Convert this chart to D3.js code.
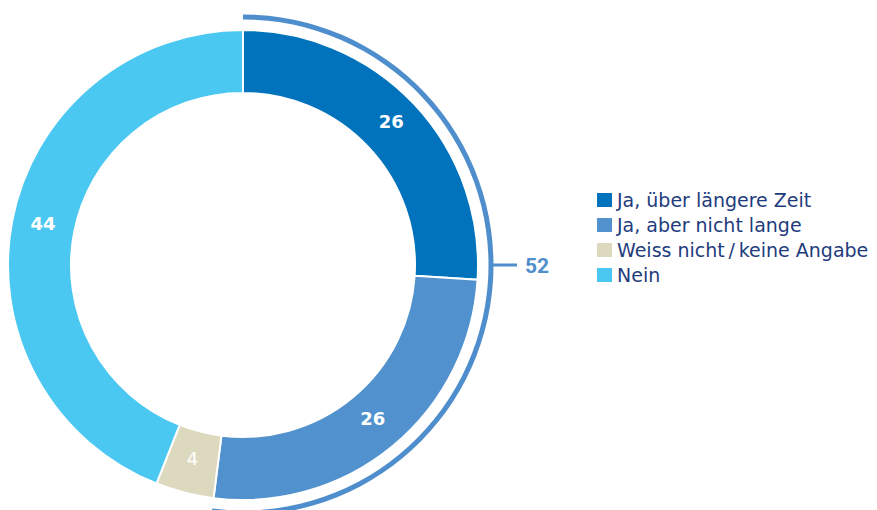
<!DOCTYPE html>
<html><head><meta charset="utf-8">
<script src="https://cdn.jsdelivr.net/npm/d3@7"></script>
<style>html,body{margin:0;padding:0;background:#fff;}svg{display:block;}</style>
</head><body>
<svg id="chart" width="877" height="510"></svg>
<script>
const categories = ["Ja, über längere Zeit", "Ja, aber nicht lange", "Weiss nicht / keine Angabe", "Nein"];
const values = [26, 26, 4, 44];
const colors = ["#0073BC", "#5192CE", "#DDD9BE", "#4BC8F2"];
const bracketLabel = 52;
const bracketSeries = [0, 1];

const svg = d3.select("#chart");
const cx = 243, cy = 265, rOuter = 235, rInner = 172;
const g = svg.append("g").attr("transform", `translate(${cx},${cy})`);

const pie = d3.pie().sort(null).value(d => d)(values);
const arc = d3.arc().innerRadius(rInner).outerRadius(rOuter);

g.selectAll("path.slice").data(pie).join("path")
  .attr("class", "slice")
  .attr("d", arc)
  .attr("fill", (d, i) => colors[i])
  .attr("stroke", "#fff").attr("stroke-width", 2);

const labelArc = d3.arc().innerRadius((rInner + rOuter) / 2).outerRadius((rInner + rOuter) / 2);
g.selectAll("text.val").data(pie).join("text")
  .attr("class", "val")
  .attr("transform", d => `translate(${labelArc.centroid(d)})`)
  .attr("text-anchor", "middle").attr("dy", "0.15em")
  .attr("fill", "#fff")
  .attr("font-family", "'DejaVu Sans', sans-serif")
  .attr("font-size", 18).attr("font-weight", (d, i) => i === 2 ? 400 : 700)
  .text(d => d.data);

// bracket arc
const bStart = pie[bracketSeries[0]].startAngle;
const bEnd = pie[bracketSeries[bracketSeries.length - 1]].endAngle;
const rB = 248;
const bArc = d3.arc().innerRadius(rB - 2.5).outerRadius(rB + 2.5).startAngle(bStart).endAngle(bEnd);
g.append("path").attr("d", bArc()).attr("fill", "#4F8ECC");
const tx0 = rB + 1, ty0 = 0;
g.append("line").attr("x1", tx0).attr("y1", ty0).attr("x2", tx0 + 25).attr("y2", ty0)
  .attr("stroke", "#4F8ECC").attr("stroke-width", 3);
g.append("text").attr("x", tx0 + 33).attr("y", ty0).attr("dy", "0.36em")
  .attr("fill", "#4F8ECC").attr("font-family", "Roboto, sans-serif")
  .attr("font-size", 21).attr("font-weight", 700).text(bracketLabel);

// legend
const leg = svg.append("g").attr("transform", "translate(597,200)");
const rows = leg.selectAll("g").data(categories).join("g")
  .attr("transform", (d, i) => `translate(0,${i * 25})`);
rows.append("rect").attr("x", 0).attr("y", -7).attr("width", 15).attr("height", 14)
  .attr("fill", (d, i) => colors[i]);
rows.append("text").attr("x", 20).attr("y", 0).attr("dy", "0.36em")
  .attr("fill", "#1E3C7C").attr("font-family", "'DejaVu Sans', sans-serif").attr("font-size", 19)
  .text(d => d.replace(" / ", "\u2009/\u2009"));
</script>
</body></html>
